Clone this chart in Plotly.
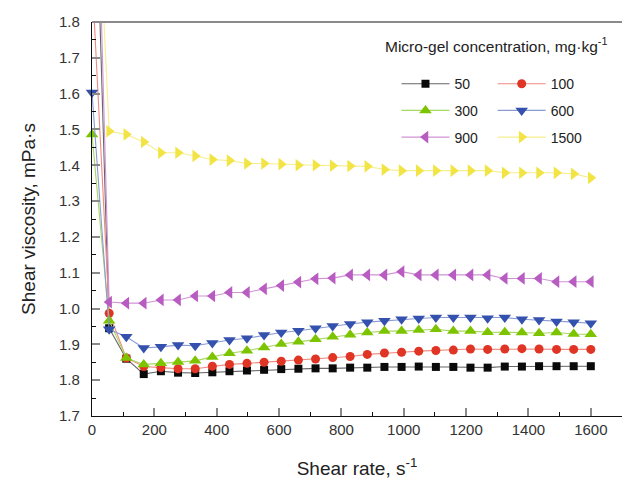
import plotly.graph_objects as go

shear_rate = [0, 55, 110, 166, 221, 276, 331, 386, 441, 497, 552, 607, 662, 717, 772,
              828, 883, 938, 993, 1048, 1103, 1159, 1214, 1269, 1324, 1379, 1434, 1490, 1545, 1600]

c50 = [2.55, 0.945, 0.860, 0.817, 0.825, 0.821, 0.820, 0.822, 0.825, 0.827, 0.829, 0.831, 0.832, 0.833, 0.833,
       0.835, 0.835, 0.837, 0.837, 0.838, 0.837, 0.837, 0.835, 0.835, 0.838, 0.838, 0.839, 0.839, 0.839, 0.839]
c100 = [1.93, 0.987, 0.862, 0.838, 0.835, 0.832, 0.832, 0.839, 0.844, 0.847, 0.850, 0.853, 0.856, 0.859, 0.863,
        0.866, 0.872, 0.876, 0.878, 0.881, 0.883, 0.884, 0.887, 0.886, 0.887, 0.888, 0.887, 0.886, 0.886, 0.886]
c300 = [1.486, 0.966, 0.862, 0.844, 0.847, 0.851, 0.854, 0.865, 0.875, 0.882, 0.891, 0.901, 0.907, 0.914, 0.921,
        0.927, 0.933, 0.937, 0.937, 0.940, 0.942, 0.937, 0.937, 0.934, 0.934, 0.933, 0.931, 0.933, 0.929, 0.928]
c600 = [1.603, 0.942, 0.921, 0.890, 0.893, 0.898, 0.896, 0.904, 0.912, 0.917, 0.926, 0.933, 0.938, 0.945, 0.951,
        0.957, 0.962, 0.966, 0.970, 0.972, 0.975, 0.975, 0.975, 0.973, 0.975, 0.970, 0.968, 0.964, 0.962, 0.959]
c900 = [2.77, 1.018, 1.015, 1.015, 1.024, 1.024, 1.035, 1.035, 1.045, 1.045, 1.055, 1.064, 1.074, 1.083, 1.085,
        1.094, 1.094, 1.094, 1.103, 1.094, 1.094, 1.094, 1.094, 1.094, 1.084, 1.084, 1.084, 1.075, 1.075, 1.075]
c1500 = [2.51, 1.495, 1.486, 1.465, 1.435, 1.435, 1.426, 1.416, 1.413, 1.405, 1.405, 1.403, 1.400, 1.400, 1.399,
         1.398, 1.397, 1.388, 1.385, 1.385, 1.385, 1.385, 1.385, 1.385, 1.379, 1.379, 1.379, 1.379, 1.376, 1.365]

series_names = ["50", "100", "300", "600", "900", "1500"]
series_values = [c50, c100, c300, c600, c900, c1500]
marker_colors = ["#0a0a0a", "#e03424", "#7cc300", "#3451ad", "#b85cc2", "#f2e445"]
line_colors = ["#666666", "#f08a80", "#a8d860", "#8a9bd4", "#d093d6", "#f6ee8c"]
symbols = ["square", "circle", "triangle-up", "triangle-down", "triangle-left", "triangle-right"]
sizes = [8, 9, 11, 11, 11, 11]
legend_ids = ["legend", "legend2", "legend", "legend2", "legend", "legend2"]

ytick_vals = [0.7, 0.8, 0.9, 1.0, 1.1, 1.2, 1.3, 1.4, 1.5, 1.6, 1.7, 1.8]
ytick_text = ["1.7", "1.8", "1.9", "1.0", "1.1", "1.2", "1.3", "1.4", "1.5", "1.6", "1.7", "1.8"]
xtick_vals = [0, 200, 400, 600, 800, 1000, 1200, 1400, 1600]

FONT = "Arial, Liberation Sans, sans-serif"

fig = go.Figure()
for i, name in enumerate(series_names):
    fig.add_trace(go.Scatter(
        x=shear_rate, y=series_values[i], name=name, mode="lines+markers",
        line=dict(color=line_colors[i], width=1.1),
        marker=dict(symbol=symbols[i], size=sizes[i], color=marker_colors[i], line=dict(width=0)),
        cliponaxis=False, legend=legend_ids[i], legendgroup=name,
    ))

legend_common = dict(
    bgcolor="rgba(0,0,0,0)", font=dict(family=FONT, size=14, color="#222"),
    itemwidth=48, traceorder="grouped", tracegroupgap=5.5, yanchor="top",
    xanchor="left", orientation="v", itemsizing="trace",
)

fig.update_layout(
    width=622, height=485,
    margin=dict(l=92, r=0, t=22, b=69),
    paper_bgcolor="white", plot_bgcolor="white",
    font=dict(family=FONT, size=15, color="#222"),
    showlegend=True,
    legend=dict(x=0.5745, y=0.883, **legend_common),
    legend2=dict(x=0.756, y=0.883, **legend_common),
    xaxis=dict(
        range=[0, 1700], tickvals=xtick_vals, ticks="inside", ticklen=8, tickwidth=2,
        tickcolor="#8a8a8a", showgrid=False, zeroline=False, showline=True,
        linecolor="#111", linewidth=1.2,
        minor=dict(dtick=100, ticks="inside", ticklen=4, tickwidth=1, tickcolor="#111", showgrid=False),
        tickfont=dict(size=15, color="#333"),
        title=dict(text="Shear rate, s<sup>-1</sup>", font=dict(size=19, color="#222"), standoff=24),
    ),
    yaxis=dict(
        range=[0.7, 1.8], tickvals=ytick_vals, ticktext=ytick_text, ticks="inside",
        ticklen=8, tickwidth=2, tickcolor="#8a8a8a", showgrid=False, zeroline=False,
        showline=True, linecolor="#111", linewidth=1.2, ticklabelstandoff=8,
        minor=dict(dtick=0.05, tick0=0.7, ticks="inside", ticklen=4, tickwidth=1, tickcolor="#111", showgrid=False),
        tickfont=dict(size=15, color="#333"),
        title=dict(text="Shear viscosity, mPa·s", font=dict(size=19, color="#222"), standoff=18),
    ),
    shapes=[dict(type="line", xref="paper", yref="paper", x0=0, x1=1, y0=1, y1=1,
                 line=dict(color="#8a8a8a", width=2), layer="above")],
    annotations=[dict(text="Micro-gel concentration, mg·kg<sup>-1</sup>", xref="paper", yref="paper",
                      x=0.549, y=0.942, xanchor="left", yanchor="middle", showarrow=False,
                      font=dict(family=FONT, size=15.5, color="#222"))],
)

fig.write_html("out.html", config={"displayModeBar": False},
               post_script="document.body.style.margin='0';")
